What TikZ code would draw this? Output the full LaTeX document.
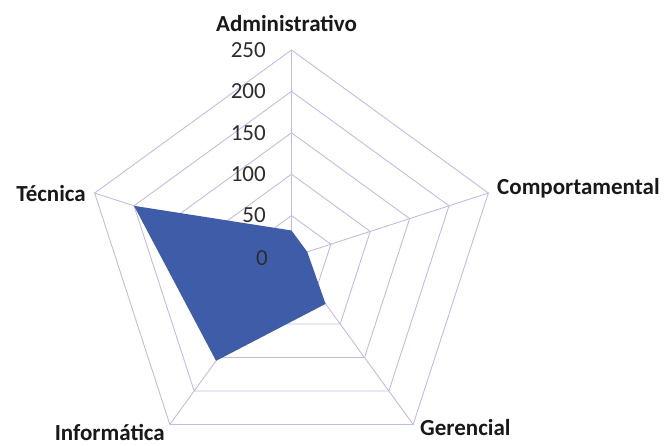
\documentclass[tikz,border=0pt]{standalone}
\usepackage{fontspec}
\setmainfont{Carlito}
\usetikzlibrary{calc}
\definecolor{gridc}{RGB}{200,186,222}
\definecolor{datac}{RGB}{62,92,168}
\definecolor{txt}{RGB}{25,25,25}
\definecolor{tickc}{RGB}{45,45,45}
\begin{document}
\begin{tikzpicture}[x=1pt,y=1pt,
  grid/.style={draw=gridc, line width=0.9pt},
  cat/.style={font=\fontsize{23}{25}\selectfont\bfseries, text=txt, inner sep=0pt},
  tick/.style={font=\fontsize{23}{25}\selectfont, text=tickc, inner sep=0pt, anchor=east},
  series/.style={fill=datac, draw=none}]
\useasboundingbox (0,0) rectangle (671,446);
\coordinate (O) at (291.5,189);
\def\S{0.828}% pixels per unit value (207/250)
\foreach \n/\a in {A/90,C/18,G/-54,I/-126,T/162}{
  \foreach \k in {1,...,5}{
    \coordinate (\n\k) at ($(O)+(\a:{\k*41.4})$);
  }
}
% rings
\foreach \k in {1,...,5}{
  \draw[grid] (A\k) -- (C\k) -- (G\k) -- (I\k) -- (T\k) -- cycle;
}
% axes
\foreach \n in {A,C,G,I,T}{
  \draw[grid] (O) -- (\n5);
}
% data series
\coordinate (dA) at ($(O)+(90:{32*\S})$);
\coordinate (dC) at ($(O)+(18:{20*\S})$);
\coordinate (dG) at ($(O)+(-54:{70*\S})$);
\coordinate (dI) at ($(O)+(-126:{155*\S})$);
\coordinate (dT) at ($(O)+(162:{200*\S})$);
\fill[series] (dA) -- (dC) -- (dG) -- (dI) -- (dT) -- cycle;
% tick labels
\node[tick] (t0) at ($(O)+(-23.5,-1.5)$) {0};
\node[tick] (t50) at ($(A1)+(-25.5,0)$) {50};
\node[tick] (t100) at ($(A2)+(-25.5,0)$) {100};
\node[tick] (t150) at ($(A3)+(-25.5,0)$) {150};
\node[tick] (t200) at ($(A4)+(-25.5,0)$) {200};
\node[tick] (t250) at ($(A5)+(-25.5,0)$) {250};
% category labels
\node[cat, anchor=base] (lA) at (286.5,414) {Administrativo};
\node[cat, anchor=base west] (lC) at (497,251) {Comportamental};
\node[cat, anchor=base west] (lG) at (420,10) {Gerencial};
\node[cat, anchor=base east] (lI) at (165,5) {Informática};
\node[cat, anchor=base east] (lT) at (86,244) {Técnica};
\end{tikzpicture}
\end{document}
